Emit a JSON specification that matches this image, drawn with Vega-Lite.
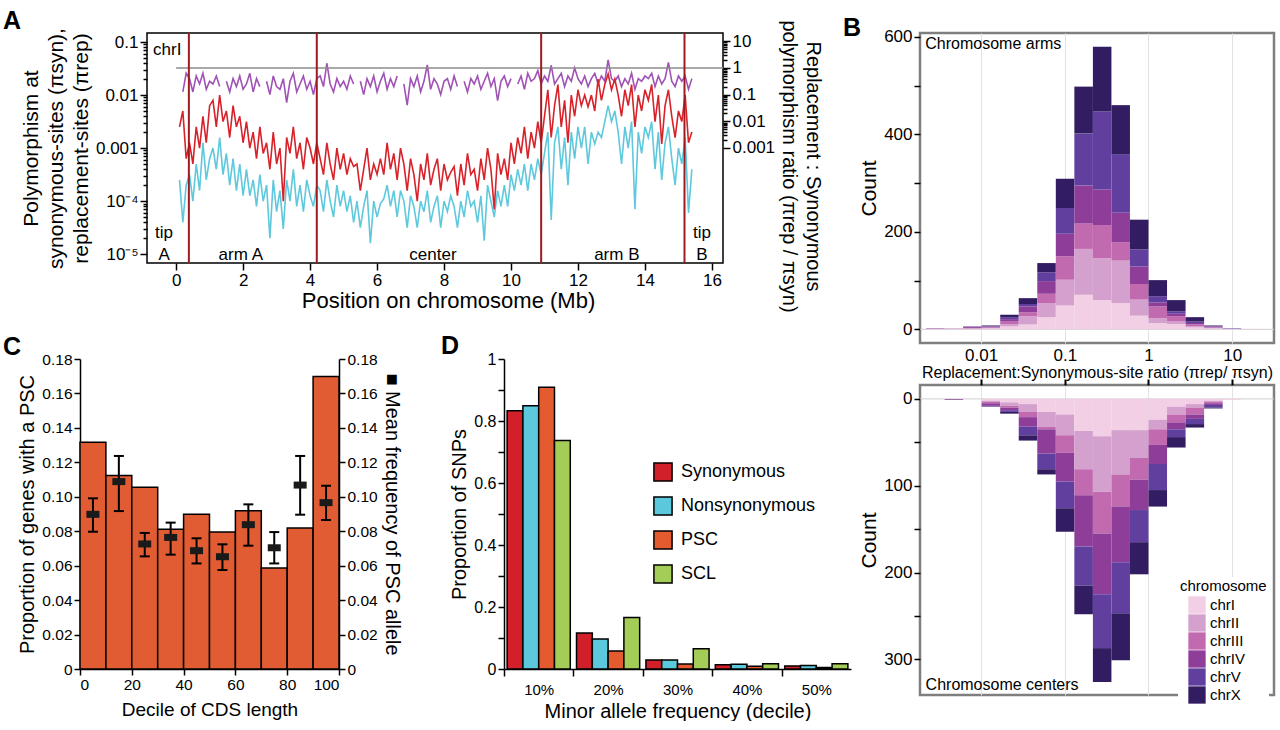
{
"$schema":"https://vega.github.io/schema/vega-lite/v6.json",
"background":"white",
"padding":{"left":2,"top":8,"right":0,"bottom":0},
"config":{
  "font":"Liberation Sans",
  "view":{"stroke":null},
  "axis":{"labelFont":"Liberation Sans","titleFont":"Liberation Sans","labelColor":"#000","titleColor":"#000","tickColor":"#000","domainColor":"#000","titleFontWeight":"normal","domainWidth":1.5,"tickWidth":1.5,"grid":false,"labelOverlap":false},
  "legend":{"labelFont":"Liberation Sans","titleFont":"Liberation Sans","labelColor":"#000","titleColor":"#000"},
  "title":{"font":"Liberation Sans","fontSize":25,"fontWeight":"bold","anchor":"start","frame":"group","color":"#000","offset":6}
},
"datasets":{
 "poly":[
{"pos":0.1,"syn":2.51e-3,"rep":2.51e-4,"ratio":null},
{"pos":0.2,"syn":5.01e-3,"rep":3.98e-5,"ratio":0.126},
{"pos":0.3,"syn":6.31e-4,"rep":2.0e-4,"ratio":0.631},
{"pos":0.4,"syn":1.26e-3,"rep":3.16e-4,"ratio":0.398},
{"pos":0.5,"syn":5.01e-4,"rep":1e-4,"ratio":0.126},
{"pos":0.6,"syn":2.51e-3,"rep":5.01e-4,"ratio":0.501},
{"pos":0.7,"syn":1e-3,"rep":1.58e-4,"ratio":0.251},
{"pos":0.8,"syn":3.98e-3,"rep":1.26e-3,"ratio":0.631},
{"pos":0.9,"syn":1.26e-3,"rep":2.51e-4,"ratio":0.158},
{"pos":1.0,"syn":6.31e-3,"rep":6.31e-4,"ratio":0.316},
{"pos":1.1,"syn":7.94e-3,"rep":1e-3,"ratio":0.251},
{"pos":1.2,"syn":2.51e-3,"rep":3.98e-4,"ratio":0.501},
{"pos":1.3,"syn":1e-2,"rep":1.58e-3,"ratio":0.2},
{"pos":1.4,"syn":3.16e-3,"rep":3.16e-4,"ratio":null},
{"pos":1.5,"syn":5.01e-3,"rep":7.94e-4,"ratio":0.316},
{"pos":1.6,"syn":1.58e-3,"rep":2.0e-4,"ratio":0.126},
{"pos":1.7,"syn":6.31e-3,"rep":6.31e-4,"ratio":0.398},
{"pos":1.8,"syn":2.51e-3,"rep":1.58e-4,"ratio":0.2},
{"pos":1.9,"syn":3.98e-3,"rep":5.01e-4,"ratio":0.501},
{"pos":2.0,"syn":1.26e-3,"rep":1.26e-4,"ratio":0.158},
{"pos":2.1,"syn":3.16e-3,"rep":3.98e-4,"ratio":0.251},
{"pos":2.2,"syn":1e-3,"rep":1.26e-4,"ratio":0.631},
{"pos":2.3,"syn":2.0e-3,"rep":2.51e-4,"ratio":0.126},
{"pos":2.4,"syn":6.31e-4,"rep":7.94e-5,"ratio":0.398},
{"pos":2.5,"syn":2.51e-3,"rep":3.16e-4,"ratio":0.2},
{"pos":2.6,"syn":7.94e-4,"rep":1e-4,"ratio":null},
{"pos":2.7,"syn":1.26e-3,"rep":2.0e-4,"ratio":0.316},
{"pos":2.8,"syn":3.98e-4,"rep":2.0e-5,"ratio":0.1},
{"pos":2.9,"syn":2.0e-3,"rep":2.51e-4,"ratio":0.501},
{"pos":3.0,"syn":5.01e-4,"rep":6.31e-5,"ratio":0.2},
{"pos":3.1,"syn":1e-3,"rep":1.58e-4,"ratio":0.158},
{"pos":3.2,"syn":1.0e-4,"rep":3.0e-5,"ratio":0.398},
{"pos":3.3,"syn":1.58e-3,"rep":2.51e-4,"ratio":0.05},
{"pos":3.4,"syn":7.94e-4,"rep":1e-4,"ratio":0.316},
{"pos":3.5,"syn":2.51e-3,"rep":3.98e-4,"ratio":0.631},
{"pos":3.6,"syn":6.31e-4,"rep":7.94e-5,"ratio":0.126},
{"pos":3.7,"syn":1.26e-3,"rep":2.0e-4,"ratio":0.251},
{"pos":3.8,"syn":3.98e-4,"rep":6.31e-5,"ratio":0.501},
{"pos":3.9,"syn":1.58e-3,"rep":2.51e-4,"ratio":0.158},
{"pos":4.0,"syn":1e-3,"rep":1.26e-4,"ratio":0.316},
{"pos":4.1,"syn":5.01e-4,"rep":7.94e-5,"ratio":0.1},
{"pos":4.2,"syn":1.26e-3,"rep":2.0e-4,"ratio":0.398},
{"pos":4.3,"syn":6.31e-4,"rep":1.58e-4,"ratio":0.501},
{"pos":4.4,"syn":3.16e-4,"rep":6.31e-5,"ratio":0.2},
{"pos":4.5,"syn":1.26e-3,"rep":2.51e-4,"ratio":1.5},
{"pos":4.6,"syn":5.01e-4,"rep":1e-4,"ratio":0.251},
{"pos":4.7,"syn":2.51e-4,"rep":5.01e-5,"ratio":0.126},
{"pos":4.8,"syn":1e-3,"rep":2.0e-4,"ratio":0.398},
{"pos":4.9,"syn":3.98e-4,"rep":7.94e-5,"ratio":0.2},
{"pos":5.0,"syn":7.94e-4,"rep":1.58e-4,"ratio":0.316},
{"pos":5.1,"syn":3.16e-4,"rep":6.31e-5,"ratio":0.158},
{"pos":5.2,"syn":6.31e-4,"rep":1.26e-4,"ratio":0.501},
{"pos":5.3,"syn":4.5e-4,"rep":3.98e-5,"ratio":0.251},
{"pos":5.4,"syn":5.01e-4,"rep":1e-4,"ratio":null},
{"pos":5.5,"syn":1.58e-4,"rep":3.16e-5,"ratio":0.316},
{"pos":5.6,"syn":3.98e-4,"rep":7.94e-5,"ratio":0.1},
{"pos":5.7,"syn":1e-3,"rep":1.58e-4,"ratio":0.398},
{"pos":5.8,"syn":2.51e-4,"rep":1.6e-5,"ratio":0.2},
{"pos":5.9,"syn":5.01e-4,"rep":1e-4,"ratio":0.501},
{"pos":6.0,"syn":3.2e-4,"rep":5.0e-5,"ratio":0.126},
{"pos":6.1,"syn":6.31e-4,"rep":9.0e-5,"ratio":0.316},
{"pos":6.2,"syn":3.16e-4,"rep":1.1e-4,"ratio":0.631},
{"pos":6.3,"syn":1.26e-3,"rep":2.0e-4,"ratio":0.158},
{"pos":6.4,"syn":3.98e-4,"rep":7.94e-5,"ratio":0.398},
{"pos":6.5,"syn":7.94e-4,"rep":1.58e-4,"ratio":0.2},
{"pos":6.6,"syn":2.51e-4,"rep":5.01e-5,"ratio":0.501},
{"pos":6.7,"syn":1e-3,"rep":1.58e-4,"ratio":null},
{"pos":6.8,"syn":5.01e-4,"rep":1e-4,"ratio":0.251},
{"pos":6.9,"syn":1.58e-4,"rep":3.16e-5,"ratio":0.04},
{"pos":7.0,"syn":6.31e-4,"rep":1.26e-4,"ratio":0.398},
{"pos":7.1,"syn":3.16e-4,"rep":7.94e-5,"ratio":0.2},
{"pos":7.2,"syn":1.0e-4,"rep":3.16e-5,"ratio":0.501},
{"pos":7.3,"syn":5.01e-4,"rep":1e-4,"ratio":0.126},
{"pos":7.4,"syn":2.51e-4,"rep":6.31e-5,"ratio":0.316},
{"pos":7.5,"syn":7.94e-4,"rep":1.58e-4,"ratio":1.3},
{"pos":7.6,"syn":2.0e-4,"rep":3.98e-5,"ratio":0.158},
{"pos":7.7,"syn":3.98e-4,"rep":7.94e-5,"ratio":0.398},
{"pos":7.8,"syn":6.31e-4,"rep":1.26e-4,"ratio":0.251},
{"pos":7.9,"syn":1.58e-4,"rep":3.16e-5,"ratio":0.1},
{"pos":8.0,"syn":5.01e-4,"rep":1e-4,"ratio":0.316},
{"pos":8.1,"syn":2.51e-4,"rep":6.31e-5,"ratio":0.398},
{"pos":8.2,"syn":3.5e-4,"rep":1.26e-4,"ratio":0.158},
{"pos":8.3,"syn":4.5e-4,"rep":7.94e-5,"ratio":0.501},
{"pos":8.4,"syn":1.26e-4,"rep":3.16e-5,"ratio":0.2},
{"pos":8.5,"syn":5.01e-4,"rep":1e-4,"ratio":null},
{"pos":8.6,"syn":2.0e-4,"rep":5.01e-5,"ratio":0.316},
{"pos":8.7,"syn":7.94e-4,"rep":1.58e-4,"ratio":0.126},
{"pos":8.8,"syn":3.16e-4,"rep":7.94e-5,"ratio":0.398},
{"pos":8.9,"syn":3.98e-4,"rep":1e-4,"ratio":0.251},
{"pos":9.0,"syn":1.58e-4,"rep":3.98e-5,"ratio":0.501},
{"pos":9.1,"syn":6.31e-4,"rep":1.26e-4,"ratio":0.158},
{"pos":9.2,"syn":2.51e-4,"rep":1.8e-5,"ratio":0.316},
{"pos":9.3,"syn":1e-3,"rep":2.0e-4,"ratio":0.631},
{"pos":9.4,"syn":3.98e-4,"rep":1e-4,"ratio":0.2},
{"pos":9.5,"syn":7.0e-5,"rep":5.01e-5,"ratio":0.398},
{"pos":9.6,"syn":7.94e-4,"rep":1.58e-4,"ratio":0.06},
{"pos":9.7,"syn":3.16e-4,"rep":7.94e-5,"ratio":0.316},
{"pos":9.8,"syn":6.31e-4,"rep":2.0e-4,"ratio":0.501},
{"pos":9.9,"syn":2.51e-4,"rep":7.94e-5,"ratio":0.2},
{"pos":10.0,"syn":1.26e-3,"rep":3.16e-4,"ratio":0.398},
{"pos":10.1,"syn":5.01e-4,"rep":1.58e-4,"ratio":null},
{"pos":10.2,"syn":1.58e-3,"rep":3.98e-4,"ratio":0.251},
{"pos":10.3,"syn":7.94e-4,"rep":2.0e-4,"ratio":0.501},
{"pos":10.4,"syn":2.51e-3,"rep":5.01e-4,"ratio":0.158},
{"pos":10.5,"syn":6.31e-4,"rep":1.58e-4,"ratio":0.631},
{"pos":10.6,"syn":2.0e-3,"rep":5.01e-4,"ratio":0.316},
{"pos":10.7,"syn":1e-3,"rep":2.51e-4,"ratio":0.398},
{"pos":10.8,"syn":3.16e-3,"rep":6.31e-4,"ratio":0.794},
{"pos":10.9,"syn":1.26e-3,"rep":3.16e-4,"ratio":0.251},
{"pos":11.0,"syn":3.98e-3,"rep":7.94e-4,"ratio":0.501},
{"pos":11.1,"syn":1.26e-2,"rep":2.0e-3,"ratio":0.316},
{"pos":11.2,"syn":1.58e-3,"rep":4.4e-5,"ratio":1.26},
{"pos":11.3,"syn":6.31e-3,"rep":1.26e-3,"ratio":0.251},
{"pos":11.4,"syn":1.58e-2,"rep":2.51e-3,"ratio":0.398},
{"pos":11.5,"syn":2.51e-3,"rep":3.98e-4,"ratio":0.631},
{"pos":11.6,"syn":7.94e-3,"rep":1.58e-3,"ratio":0.2},
{"pos":11.7,"syn":1.26e-3,"rep":2.0e-4,"ratio":0.501},
{"pos":11.8,"syn":1e-2,"rep":2.0e-3,"ratio":0.316},
{"pos":11.9,"syn":3.98e-3,"rep":6.31e-4,"ratio":1.0},
{"pos":12.0,"syn":1.26e-2,"rep":2.51e-3,"ratio":0.398},
{"pos":12.1,"syn":6.31e-3,"rep":1e-3,"ratio":0.251},
{"pos":12.2,"syn":1.0e-2,"rep":2.51e-3,"ratio":0.501},
{"pos":12.3,"syn":6.0e-3,"rep":5.01e-4,"ratio":0.2},
{"pos":12.4,"syn":1e-2,"rep":2.0e-3,"ratio":0.398},
{"pos":12.5,"syn":5.01e-3,"rep":1.2e-3,"ratio":0.631},
{"pos":12.6,"syn":2.0e-2,"rep":2.0e-3,"ratio":0.251},
{"pos":12.7,"syn":7.94e-3,"rep":1.58e-3,"ratio":0.501},
{"pos":12.8,"syn":1.58e-2,"rep":3.16e-3,"ratio":0.316},
{"pos":12.9,"syn":2.51e-2,"rep":6.31e-3,"ratio":2.0},
{"pos":13.0,"syn":1.26e-2,"rep":3.16e-3,"ratio":0.398},
{"pos":13.1,"syn":2.0e-2,"rep":5.01e-3,"ratio":0.316},
{"pos":13.2,"syn":1e-2,"rep":2.0e-3,"ratio":0.501},
{"pos":13.3,"syn":3.98e-3,"rep":5.01e-4,"ratio":0.2},
{"pos":13.4,"syn":1.26e-2,"rep":2.51e-3,"ratio":0.398},
{"pos":13.5,"syn":6.31e-3,"rep":1e-3,"ratio":0.251},
{"pos":13.6,"syn":1.58e-2,"rep":3.16e-3,"ratio":0.631},
{"pos":13.7,"syn":2.51e-3,"rep":7.0e-5,"ratio":0.158},
{"pos":13.8,"syn":1e-2,"rep":2.0e-3,"ratio":0.398},
{"pos":13.9,"syn":5.01e-3,"rep":7.94e-4,"ratio":0.316},
{"pos":14.0,"syn":1.26e-2,"rep":2.51e-3,"ratio":0.501},
{"pos":14.1,"syn":7.94e-3,"rep":1.58e-3,"ratio":0.398},
{"pos":14.2,"syn":1.58e-2,"rep":3.16e-3,"ratio":0.631},
{"pos":14.3,"syn":3.16e-3,"rep":3.98e-4,"ratio":0.2},
{"pos":14.4,"syn":1e-2,"rep":2.0e-3,"ratio":0.501},
{"pos":14.5,"syn":1.2e-3,"rep":2.51e-4,"ratio":0.251},
{"pos":14.6,"syn":6.31e-3,"rep":1.26e-3,"ratio":0.398},
{"pos":14.7,"syn":1.26e-2,"rep":2.51e-3,"ratio":1.6},
{"pos":14.8,"syn":3.98e-3,"rep":6.31e-4,"ratio":0.316},
{"pos":14.9,"syn":1.58e-3,"rep":2.0e-4,"ratio":0.2},
{"pos":15.0,"syn":5.01e-3,"rep":1e-3,"ratio":0.501},
{"pos":15.1,"syn":3.16e-3,"rep":5.01e-4,"ratio":0.316},
{"pos":15.2,"syn":1e-2,"rep":1.58e-3,"ratio":0.501},
{"pos":15.3,"syn":1.26e-3,"rep":6.0e-5,"ratio":0.158},
{"pos":15.4,"syn":2.0e-3,"rep":3.98e-4,"ratio":0.398}
 ],
 "arms":[
{"lo":0.002198,"hi":0.00366,"chrI":1,"chrII":0,"chrIII":0,"chrIV":1,"chrV":0,"chrX":0},
{"lo":0.00366,"hi":0.006095,"chrI":1,"chrII":0,"chrIII":0,"chrIV":1,"chrV":0,"chrX":0},
{"lo":0.006095,"hi":0.010151,"chrI":1,"chrII":1,"chrIII":1,"chrIV":2,"chrV":1,"chrX":0},
{"lo":0.010151,"hi":0.016904,"chrI":2,"chrII":1,"chrIII":1,"chrIV":2,"chrV":1,"chrX":1},
{"lo":0.016904,"hi":0.028145,"chrI":6,"chrII":5,"chrIII":5,"chrIV":5,"chrV":4,"chrX":5},
{"lo":0.028145,"hi":0.046881,"chrI":10,"chrII":17,"chrIII":8,"chrIV":12,"chrV":5,"chrX":12},
{"lo":0.046881,"hi":0.078068,"chrI":25,"chrII":29,"chrIII":19,"chrIV":26,"chrV":18,"chrX":19},
{"lo":0.078068,"hi":0.130017,"chrI":49,"chrII":53,"chrIII":48,"chrIV":46,"chrV":53,"chrX":60},
{"lo":0.130017,"hi":0.21657,"chrI":71,"chrII":94,"chrIII":52,"chrIV":78,"chrV":107,"chrX":96},
{"lo":0.21657,"hi":0.360579,"chrI":60,"chrII":86,"chrIII":68,"chrIV":73,"chrV":160,"chrX":133},
{"lo":0.360579,"hi":0.600343,"chrI":54,"chrII":87,"chrIII":38,"chrIV":60,"chrV":120,"chrX":101},
{"lo":0.600343,"hi":1,"chrI":28,"chrII":33,"chrIII":32,"chrIV":36,"chrV":35,"chrX":61},
{"lo":1,"hi":1.6656,"chrI":13,"chrII":10,"chrIII":24,"chrIV":8,"chrV":13,"chrX":33},
{"lo":1.6656,"hi":2.7733,"chrI":11,"chrII":5,"chrIII":11,"chrIV":5,"chrV":5,"chrX":23},
{"lo":2.7733,"hi":4.6184,"chrI":4,"chrII":2,"chrIII":4,"chrIV":3,"chrV":3,"chrX":9},
{"lo":4.6184,"hi":7.6913,"chrI":2,"chrII":1,"chrIII":1,"chrIV":2,"chrV":1,"chrX":1},
{"lo":7.6913,"hi":12.809,"chrI":1,"chrII":0,"chrIII":0,"chrIV":0,"chrV":1,"chrX":0},
{"lo":12.809,"hi":21.33,"chrI":1,"chrII":0,"chrIII":0,"chrIV":0,"chrV":0,"chrX":0}
 ],
 "centers":[
{"lo":0.00366,"hi":0.006095,"chrI":0,"chrII":0,"chrIII":0,"chrIV":1,"chrV":0,"chrX":0},
{"lo":0.010151,"hi":0.016904,"chrI":2,"chrII":1,"chrIII":2,"chrIV":3,"chrV":1,"chrX":0},
{"lo":0.016904,"hi":0.028145,"chrI":4,"chrII":4,"chrIII":2,"chrIV":3,"chrV":2,"chrX":2},
{"lo":0.028145,"hi":0.046881,"chrI":6,"chrII":9,"chrIII":6,"chrIV":11,"chrV":10,"chrX":6},
{"lo":0.046881,"hi":0.078068,"chrI":15,"chrII":17,"chrIII":3,"chrIV":28,"chrV":18,"chrX":6},
{"lo":0.078068,"hi":0.130017,"chrI":18,"chrII":24,"chrIII":20,"chrIV":33,"chrV":31,"chrX":27},
{"lo":0.130017,"hi":0.21657,"chrI":37,"chrII":44,"chrIII":30,"chrIV":59,"chrV":45,"chrX":33},
{"lo":0.21657,"hi":0.360579,"chrI":43,"chrII":64,"chrIII":48,"chrIV":70,"chrV":62,"chrX":39},
{"lo":0.360579,"hi":0.600343,"chrI":36,"chrII":51,"chrIII":37,"chrIV":64,"chrV":59,"chrX":54},
{"lo":0.600343,"hi":1,"chrI":36,"chrII":32,"chrIII":25,"chrIV":35,"chrV":37,"chrX":37},
{"lo":1,"hi":1.6656,"chrI":24,"chrII":11,"chrIII":18,"chrIV":22,"chrV":30,"chrX":19},
{"lo":1.6656,"hi":2.7733,"chrI":9,"chrII":9,"chrIII":9,"chrIV":8,"chrV":9,"chrX":12},
{"lo":2.7733,"hi":4.6184,"chrI":6,"chrII":4,"chrIII":8,"chrIV":5,"chrV":6,"chrX":4},
{"lo":4.6184,"hi":7.6913,"chrI":2,"chrII":1,"chrIII":2,"chrIV":2,"chrV":3,"chrX":1},
{"lo":7.6913,"hi":12.809,"chrI":1,"chrII":0,"chrIII":0,"chrIV":0,"chrV":0,"chrX":0}
 ],
 "cbars":[
{"lo":0,"hi":10,"prop":0.1316},{"lo":10,"hi":20,"prop":0.1123},{"lo":20,"hi":30,"prop":0.1055},{"lo":30,"hi":40,"prop":0.0811},{"lo":40,"hi":50,"prop":0.0898},
{"lo":50,"hi":60,"prop":0.0795},{"lo":60,"hi":70,"prop":0.0919},{"lo":70,"hi":80,"prop":0.0586},{"lo":80,"hi":90,"prop":0.0819},{"lo":90,"hi":100,"prop":0.1699}
 ],
 "cerr":[
{"mid":5,"mean":0.0898,"lower":0.0797,"upper":0.0991},
{"mid":15,"mean":0.1088,"lower":0.0917,"upper":0.1237},
{"mid":25,"mean":0.0726,"lower":0.0654,"upper":0.079},
{"mid":35,"mean":0.0764,"lower":0.0664,"upper":0.085},
{"mid":45,"mean":0.0687,"lower":0.0613,"upper":0.0759},
{"mid":55,"mean":0.0652,"lower":0.0575,"upper":0.0724},
{"mid":65,"mean":0.0838,"lower":0.0716,"upper":0.0956},
{"mid":75,"mean":0.0704,"lower":0.0613,"upper":0.0795},
{"mid":85,"mean":0.1068,"lower":0.0896,"upper":0.1237},
{"mid":95,"mean":0.0966,"lower":0.0865,"upper":0.1064}
 ],
 "dbars":[
{"maf":"10%","type":"Synonymous","prop":0.833},{"maf":"10%","type":"Nonsynonymous","prop":0.849},{"maf":"10%","type":"PSC","prop":0.909},{"maf":"10%","type":"SCL","prop":0.737},
{"maf":"20%","type":"Synonymous","prop":0.116},{"maf":"20%","type":"Nonsynonymous","prop":0.097},{"maf":"20%","type":"PSC","prop":0.058},{"maf":"20%","type":"SCL","prop":0.166},
{"maf":"30%","type":"Synonymous","prop":0.029},{"maf":"30%","type":"Nonsynonymous","prop":0.029},{"maf":"30%","type":"PSC","prop":0.016},{"maf":"30%","type":"SCL","prop":0.065},
{"maf":"40%","type":"Synonymous","prop":0.014},{"maf":"40%","type":"Nonsynonymous","prop":0.015},{"maf":"40%","type":"PSC","prop":0.009},{"maf":"40%","type":"SCL","prop":0.017},
{"maf":"50%","type":"Synonymous","prop":0.010},{"maf":"50%","type":"Nonsynonymous","prop":0.011},{"maf":"50%","type":"PSC","prop":0.005},{"maf":"50%","type":"SCL","prop":0.017}
 ]
},
"columns":2,
"align":"none",
"spacing":-10,
"resolve":{"scale":{"color":"independent"},"legend":{"color":"independent"}},
"concat":[
 {"spacing":21,
  "resolve":{"scale":{"color":"independent"},"legend":{"color":"independent"}},
  "vconcat":[
   {"bounds":"flush","spacing":0,"hconcat":[
     {"width":67,"height":1,"data":{"values":[]},"mark":"point","view":{"stroke":null}},
     {"width":576,"height":230,
      "view":{"stroke":"#000","strokeWidth":1.5},
      "title":{"text":"A","dx":-144,"dy":20},
      "resolve":{"scale":{"y":"independent"},"axis":{"y":"independent"}},
      "layer":[
       {"layer":[
         {"data":{"name":"poly"},
          "mark":{"type":"line","color":"#a052b5","strokeWidth":1.6,"invalid":"break-paths-filter-domains"},
          "encoding":{
            "x":{"field":"pos","type":"quantitative","scale":{"domain":[-0.87,16.33],"nice":false,"zero":false},
                 "axis":{"title":"Position on chromosome (Mb)","titleFontSize":22,"labelFontSize":17,"domain":false,
                         "values":[0,0.5,1,1.5,2,2.5,3,3.5,4,4.5,5,5.5,6,6.5,7,7.5,8,8.5,9,9.5,10,10.5,11,11.5,12,12.5,13,13.5,14,14.5,15,15.5,16],
                         "labelExpr":"datum.value % 2 == 0 ? format(datum.value,'d') : ''",
                         "tickSize":{"condition":{"test":"datum.value % 2 == 0","value":7},"value":4},
                         "titleX":301,"titlePadding":2}},
            "y":{"field":"ratio","type":"quantitative","scale":{"type":"log","domain":[4.9e-8,20.4],"nice":false},
                 "axis":{"orient":"right","domain":false,"labelFontSize":17,"titleFontSize":20,"titleLineHeight":24,
                         "title":["Replacement : Synonymous","polymorphism ratio (πrep / πsyn)"],
                         "titleY":133,
                         "values":[0.001,0.002,0.003,0.004,0.005,0.006,0.007,0.008,0.009,0.01,0.02,0.03,0.04,0.05,0.06,0.07,0.08,0.09,0.1,0.2,0.3,0.4,0.5,0.6,0.7,0.8,0.9,1,2,3,4,5,6,7,8,9,10],
                         "labelExpr":"abs(log(datum.value)/LN10 - round(log(datum.value)/LN10)) < 0.001 ? format(datum.value,'~g') : ''",
                         "tickSize":{"condition":{"test":"abs(log(datum.value)/LN10 - round(log(datum.value)/LN10)) < 0.001","value":7},"value":4}}}
          }},
         {"data":{"values":[{}]},
          "mark":{"type":"rule","color":"#8c8c8c","strokeWidth":1.5},
          "encoding":{"x":{"datum":0},"x2":{"datum":16.33},"y":{"datum":1}}}
       ]},
       {"layer":[
         {"data":{"name":"poly"},
          "mark":{"type":"line","color":"#5ec8dd","strokeWidth":1.6},
          "encoding":{
            "x":{"field":"pos","type":"quantitative"},
            "y":{"field":"rep","type":"quantitative","scale":{"type":"log","domain":[6.8e-6,0.148],"nice":false},
                 "axis":{"orient":"left","domain":false,"labelFontSize":17,"titleFontSize":21,"titleLineHeight":25,
                         "title":["Polymorphism at","synonymous-sites (πsyn),","replacement-sites (πrep)"],
                         "values":[1e-5,2e-5,3e-5,4e-5,5e-5,6e-5,7e-5,8e-5,9e-5,1e-4,2e-4,3e-4,4e-4,5e-4,6e-4,7e-4,8e-4,9e-4,0.001,0.002,0.003,0.004,0.005,0.006,0.007,0.008,0.009,0.01,0.02,0.03,0.04,0.05,0.06,0.07,0.08,0.09,0.1],
                         "labelExpr":"abs(log(datum.value)/LN10 - round(log(datum.value)/LN10)) < 0.001 ? (datum.value < 2e-5 ? '10⁻⁵' : datum.value < 2e-4 ? '10⁻⁴' : format(datum.value,'~g')) : ''",
                         "tickSize":{"condition":{"test":"abs(log(datum.value)/LN10 - round(log(datum.value)/LN10)) < 0.001","value":7},"value":4}}}
          }},
         {"data":{"name":"poly"},
          "mark":{"type":"line","color":"#d8222a","strokeWidth":1.6},
          "encoding":{"x":{"field":"pos","type":"quantitative"},"y":{"field":"syn","type":"quantitative"}}},
         {"data":{"values":[{"pos":0.38},{"pos":4.2},{"pos":10.9},{"pos":15.18}]},
          "mark":{"type":"rule","color":"#9e1b20","strokeWidth":2},
          "encoding":{"x":{"field":"pos","type":"quantitative"}}},
         {"data":{"values":[{"pos":-0.36,"syn":2.0e-5,"lab":"tip"},{"pos":-0.36,"syn":7.7e-6,"lab":"A"},{"pos":1.93,"syn":7.7e-6,"lab":"arm A"},{"pos":7.67,"syn":7.7e-6,"lab":"center"},{"pos":13.16,"syn":7.7e-6,"lab":"arm B"},{"pos":15.7,"syn":2.0e-5,"lab":"tip"},{"pos":15.7,"syn":7.7e-6,"lab":"B"}]},
          "mark":{"type":"text","fontSize":17,"baseline":"alphabetic","align":"center","color":"#000"},
          "encoding":{"x":{"field":"pos","type":"quantitative"},"y":{"field":"syn","type":"quantitative"},"text":{"field":"lab"}}},
         {"data":{"values":[{"pos":-0.69,"syn":0.0708,"lab":"chrI"}]},
          "mark":{"type":"text","fontSize":17,"baseline":"middle","align":"left","color":"#000"},
          "encoding":{"x":{"field":"pos","type":"quantitative"},"y":{"field":"syn","type":"quantitative"},"text":{"field":"lab"}}}
       ]}
      ]}
   ]},
   {"bounds":"flush","spacing":165,
    "resolve":{"scale":{"color":"independent"},"legend":{"color":"independent"}},
    "hconcat":[
     {"width":259,"height":310,
      "title":{"text":"C","dx":-77,"dy":14},
      "resolve":{"scale":{"y":"independent"},"axis":{"y":"independent"}},
      "layer":[
       {"data":{"name":"cbars"},
        "mark":{"type":"bar","color":"#e25c33","stroke":"#000","strokeWidth":1.5},
        "encoding":{
          "x":{"field":"lo","type":"quantitative","scale":{"domain":[0,100],"nice":false},
               "axis":{"title":"Decile of CDS length","titleFontSize":19,"labelFontSize":15.5,"tickSize":6,"titlePadding":8,
                       "values":[0,10,20,30,40,50,60,70,80,90,100],
                       "labelExpr":"datum.value % 20 == 0 ? format(datum.value,'d') : ''"}},
          "x2":{"field":"hi"},
          "y":{"field":"prop","type":"quantitative","scale":{"domain":[0,0.18],"nice":false},
               "axis":{"orient":"left","title":"Proportion of genes with a PSC","titleFontSize":20,"labelFontSize":15.5,"tickSize":6,"titlePadding":4,
                       "values":[0,0.02,0.04,0.06,0.08,0.1,0.12,0.14,0.16,0.18],
                       "labelExpr":"datum.value == 0 ? '0' : format(datum.value,'.2f')"}},
          "y2":{"datum":0}
        }},
       {"data":{"name":"cerr"},
        "layer":[
         {"mark":{"type":"rule","color":"#000","strokeWidth":2},
          "encoding":{
            "x":{"field":"mid","type":"quantitative"},
            "y":{"field":"lower","type":"quantitative","scale":{"domain":[0,0.18],"nice":false},
                 "axis":{"orient":"right","title":"■ Mean frequency of PSC allele","titleFontSize":20,"labelFontSize":15.5,"tickSize":6,"titlePadding":4,
                         "values":[0,0.02,0.04,0.06,0.08,0.1,0.12,0.14,0.16,0.18],"labelOverlap":false,
                         "labelExpr":"datum.value == 0 ? '0' : format(datum.value,'.2f')"}},
            "y2":{"field":"upper"}}},
         {"mark":{"type":"tick","orient":"horizontal","color":"#000","opacity":1,"size":10,"thickness":2},
          "encoding":{"x":{"field":"mid","type":"quantitative"},
            "y":{"field":"lower","type":"quantitative",
                 "axis":{"orient":"right","title":"■ Mean frequency of PSC allele","titleFontSize":20,"labelFontSize":15.5,"tickSize":6,"titlePadding":4,
                         "values":[0,0.02,0.04,0.06,0.08,0.1,0.12,0.14,0.16,0.18],"labelOverlap":false,
                         "labelExpr":"datum.value == 0 ? '0' : format(datum.value,'.2f')"}}}},
         {"mark":{"type":"tick","orient":"horizontal","color":"#000","opacity":1,"size":10,"thickness":2},
          "encoding":{"x":{"field":"mid","type":"quantitative"},
            "y":{"field":"upper","type":"quantitative",
                 "axis":{"orient":"right","title":"■ Mean frequency of PSC allele","titleFontSize":20,"labelFontSize":15.5,"tickSize":6,"titlePadding":4,
                         "values":[0,0.02,0.04,0.06,0.08,0.1,0.12,0.14,0.16,0.18],"labelOverlap":false,
                         "labelExpr":"datum.value == 0 ? '0' : format(datum.value,'.2f')"}}}},
         {"mark":{"type":"tick","orient":"horizontal","color":"#1a1a1a","opacity":1,"size":13,"thickness":7},
          "encoding":{"x":{"field":"mid","type":"quantitative"},
            "y":{"field":"mean","type":"quantitative",
                 "axis":{"orient":"right","title":"■ Mean frequency of PSC allele","titleFontSize":20,"labelFontSize":15.5,"tickSize":6,"titlePadding":4,
                         "values":[0,0.02,0.04,0.06,0.08,0.1,0.12,0.14,0.16,0.18],"labelOverlap":false,
                         "labelExpr":"datum.value == 0 ? '0' : format(datum.value,'.2f')"}}}}
        ]}
      ]},
     {"width":347,"height":310,
      "title":{"text":"D","dx":-63,"dy":14},
      "data":{"name":"dbars"},
      "mark":{"type":"bar","stroke":"#000","strokeWidth":1.5},
      "encoding":{
        "x":{"field":"maf","type":"nominal","sort":["10%","20%","30%","40%","50%"],
             "scale":{"paddingInner":0.09,"paddingOuter":0.045},
             "axis":{"title":"Minor allele frequency (decile)","titleFontSize":20,"labelFontSize":15,"labelAngle":0,"tickSize":7,
                     "tickOffset":-34.7,"labelOffset":34.7,"labelPadding":6}},
        "xOffset":{"field":"type","type":"nominal","sort":["Synonymous","Nonsynonymous","PSC","SCL"],"scale":{"paddingInner":0,"paddingOuter":0}},
        "y":{"field":"prop","type":"quantitative","scale":{"domain":[0,1],"nice":false},
             "axis":{"title":"Proportion of SNPs","titleFontSize":20,"labelFontSize":16,"tickSize":6,
                     "values":[0,0.1,0.2,0.3,0.4,0.5,0.6,0.7,0.8,0.9,1],
                     "labelExpr":"round(datum.value*10) % 2 == 0 ? format(datum.value,'~g') : ''"}},
        "color":{"field":"type","type":"nominal","sort":["Synonymous","Nonsynonymous","PSC","SCL"],
                 "scale":{"domain":["Synonymous","Nonsynonymous","PSC","SCL"],"range":["#d2202a","#5cc8dc","#e55b30","#a4cd58"]},
                 "legend":{"orient":"none","legendX":149,"legendY":103,"title":null,"symbolType":"square","symbolSize":330,
                           "symbolStrokeColor":"#000","symbolStrokeWidth":1.5,"labelFontSize":18,"rowPadding":8,"labelOffset":8}}
      }}
    ]}
  ]},
 {"bounds":"flush","spacing":42,
  "resolve":{"scale":{"color":"independent"},"legend":{"color":"independent"}},
  "vconcat":[
   {"width":354,"height":310,
    "view":{"stroke":"#7f7f7f","strokeWidth":2.5},
    "title":{"text":"B","dx":-77,"dy":19},
    "layer":[
     {"data":{"values":[{}]},"mark":{"type":"rule","color":"#cfcfcf","strokeWidth":1},"encoding":{"y":{"datum":0}}},
     {"data":{"name":"arms"},
      "transform":[{"fold":["chrI","chrII","chrIII","chrIV","chrV","chrX"],"as":["chrom","n"]},
                   {"stack":"n","groupby":["lo"],"sort":[{"field":"chrom","order":"ascending"}],"as":["c0","c1"]}],
      "mark":{"type":"bar","strokeWidth":0},
      "encoding":{
        "x":{"field":"lo","type":"quantitative","scale":{"type":"log","domain":[0.00186,31.6],"nice":false},
             "axis":{"values":[0.01,0.1,1,10],"grid":true,"gridColor":"#e2e2e2","ticks":false,"domain":false,"labelFontSize":17,"labelPadding":4,
                     "labelExpr":"format(datum.value,'~g')","title":"Replacement:Synonymous-site ratio (πrep/ πsyn)","titleFontSize":16,"titlePadding":1}},
        "x2":{"field":"hi"},
        "y":{"field":"c0","type":"quantitative","scale":{"domain":[-28,608],"nice":false,"zero":false},
             "axis":{"title":"Count","titleFontSize":21,"labelFontSize":17,"domain":false,"tickSize":6,
                     "values":[0,100,200,300,400,500,600],"labelExpr":"datum.value % 200 == 0 ? format(datum.value,'d') : ''"}},
        "y2":{"field":"c1"},
        "color":{"field":"chrom","type":"nominal","scale":{"domain":["chrI","chrII","chrIII","chrIV","chrV","chrX"],"range":["#f2cfe4","#d4a0cd","#c26aaf","#8e3e99","#613f9e","#321c62"]},"legend":null}
      }},
     {"data":{"values":[{"lo":0.00215,"c0":585,"t":"Chromosome arms"}]},
      "mark":{"type":"text","align":"left","baseline":"middle","fontSize":16,"color":"#000"},
      "encoding":{"x":{"field":"lo","type":"quantitative"},"y":{"field":"c0","type":"quantitative"},"text":{"field":"t"}}}
    ]},
   {"width":354,"height":310,
    "view":{"stroke":"#7f7f7f","strokeWidth":2.5},
    "layer":[
     {"data":{"values":[{}]},"mark":{"type":"rule","color":"#cfcfcf","strokeWidth":1},"encoding":{"y":{"datum":0}}},
     {"data":{"name":"centers"},
      "transform":[{"fold":["chrI","chrII","chrIII","chrIV","chrV","chrX"],"as":["chrom","n"]},
                   {"stack":"n","groupby":["lo"],"sort":[{"field":"chrom","order":"ascending"}],"as":["c0","c1"]}],
      "mark":{"type":"bar","strokeWidth":0},
      "encoding":{
        "x":{"field":"lo","type":"quantitative","scale":{"type":"log","domain":[0.00186,31.6],"nice":false},
             "axis":{"orient":"top","values":[0.01,0.1,1,10],"grid":true,"gridColor":"#e2e2e2","labels":false,"domain":false,"tickSize":6,"tickWidth":2,"title":null}},
        "x2":{"field":"hi"},
        "y":{"field":"c0","type":"quantitative","scale":{"domain":[-16,341],"nice":false,"zero":false,"reverse":true},
             "axis":{"title":"Count","titleFontSize":21,"labelFontSize":17,"domain":false,"tickSize":6,
                     "values":[0,50,100,150,200,250,300],"labelExpr":"datum.value % 100 == 0 ? format(datum.value,'d') : ''"}},
        "y2":{"field":"c1"},
        "color":{"field":"chrom","type":"nominal","scale":{"domain":["chrI","chrII","chrIII","chrIV","chrV","chrX"],"range":["#f2cfe4","#d4a0cd","#c26aaf","#8e3e99","#613f9e","#321c62"]},
                 "legend":{"orient":"none","legendX":258,"legendY":192,"title":"chromosome","titleFontSize":15,"titleFontWeight":"normal","labelFontSize":15,
                           "symbolType":"square","symbolSize":300,"symbolStrokeWidth":0,"rowPadding":0,"symbolOffset":8,"labelOffset":4,"fillColor":"white","padding":2,"titlePadding":2}}
      }},
     {"data":{"values":[{"lo":0.00217,"c0":329,"t":"Chromosome centers"}]},
      "mark":{"type":"text","align":"left","baseline":"middle","fontSize":16,"color":"#000"},
      "encoding":{"x":{"field":"lo","type":"quantitative"},"y":{"field":"c0","type":"quantitative"},"text":{"field":"t"}}}
    ]}
  ]}
]
}
